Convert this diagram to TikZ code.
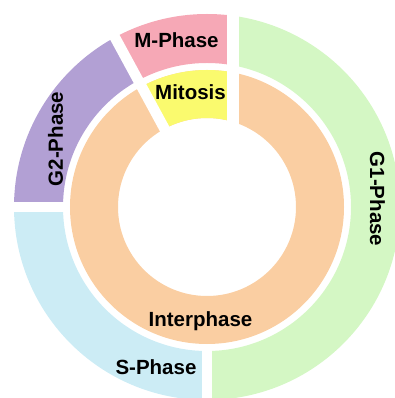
\documentclass[tikz,border=0pt]{standalone}
\usepackage{fontspec}
\setmainfont{Liberation Sans}
\definecolor{gonecol}{RGB}{212,247,196}
\definecolor{scol}{RGB}{204,236,245}
\definecolor{gtwocol}{RGB}{178,160,212}
\definecolor{mcol}{RGB}{246,168,182}
\definecolor{mitcol}{RGB}{250,250,110}
\definecolor{intcol}{RGB}{250,206,162}
\begin{document}
\begin{tikzpicture}[x=1pt,y=1pt,
  lbl/.style={font=\fontsize{20.5}{24}\selectfont\bfseries, inner sep=0pt},
  band/.style={fill=white},
  outerring/.style={even odd rule},
]
\useasboundingbox (-207,-191) rectangle (188,207);
\clip (-207,-191) rectangle (188,207);
% cut angle between G2 / M-phase and interphase / mitosis
\def\cut{118.5}
% ---- outer ring: phases ----
\begin{scope}
  \clip (25,300) -- (300,300) -- (300,-300) -- (0,-300) -- (0,0) -- (25,0) -- cycle;
  \fill[gonecol, outerring] (0,0) circle[radius=193] (0,0) circle[radius=144];
\end{scope}
\begin{scope}
  \clip (0,0) -- (\cut:400) -- (25,400) -- (25,0) -- cycle;
  \fill[mcol, outerring] (0,0) circle[radius=193] (0,0) circle[radius=144];
\end{scope}
\begin{scope}
  \clip (0,0) -- (\cut:400) -- (-400,352) -- (-400,0) -- cycle;
  \fill[gtwocol, outerring] (0,0) circle[radius=193] (0,0) circle[radius=144];
\end{scope}
\begin{scope}
  \clip (0,0) -- (-400,0) -- (-400,-400) -- (0,-400) -- cycle;
  \fill[scol, outerring] (0,0) circle[radius=193] (0,0) circle[radius=144];
\end{scope}
% ---- inner ring: interphase and mitosis ----
\fill[intcol, outerring] (0,0) circle[radius=137] (0,0) circle[radius=89];
\begin{scope}
  \clip (0,0) -- (\cut:400) -- (25,400) -- (25,0) -- cycle;
  \fill[mitcol, outerring] (0,0) circle[radius=137] (0,0) circle[radius=89];
\end{scope}
% ---- white separating gaps ----
\fill[band] (20,60) rectangle (31.5,260);
\fill[band] (-5,-260) rectangle (5,-139);
\fill[band] (-260,-5) rectangle (-139,5);
\draw[white, line width=10.5] (\cut:70) -- (\cut:260);
% ---- labels ----
\node[lbl] (mphase) at (-30.5,166.5) {M-Phase};
\node[lbl] (mitosis) at (-16.5,115) {Mitosis};
\node[lbl, anchor=base] (interphase) at (-6.5,-119) {Interphase};
\node[lbl, anchor=base] (sphase) at (-51,-167) {S-Phase};
\node[lbl, anchor=base, rotate=90] (gtwo) at (-144,68) {G2-Phase};
\node[lbl, anchor=base, rotate=-90] (gone) at (163,8) {G1-Phase};
\end{tikzpicture}
\end{document}
